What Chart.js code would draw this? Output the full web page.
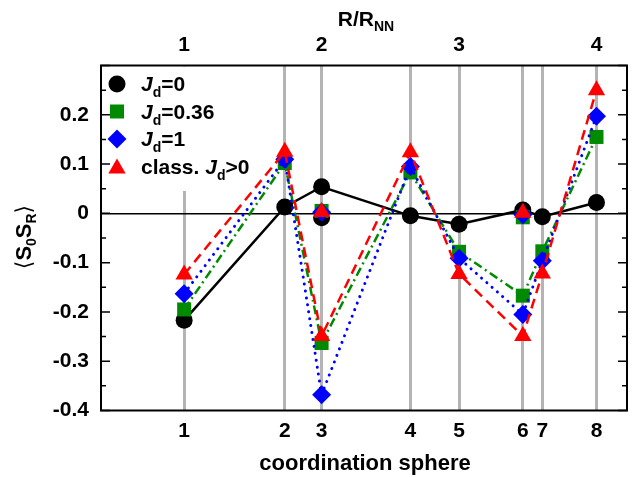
<!DOCTYPE html>
<html><head><meta charset="utf-8">
<script src="https://cdn.jsdelivr.net/npm/chart.js@4.4.0/dist/chart.umd.min.js"></script>
<style>html,body{margin:0;padding:0;background:#fff;}#wrap{width:637px;height:477px;}</style>
</head><body><div id="wrap"><canvas id="c" width="637" height="477"></canvas></div>
<script>
// positions of coordination spheres in units of R/R_NN
const spherePos = [1, 1.732, 2, 2.646, 3, 3.464, 3.606, 4];
const sphereLabels = ['1', '2', '3', '4', '5', '6', '7', '8'];
const topTicks = [1, 2, 3, 4];
const yTickVals = [-0.4, -0.3, -0.2, -0.1, 0, 0.1, 0.2];

// connected values per sphere
const jd0     = [-0.217, 0.013, 0.054, -0.005, -0.022, 0.007, -0.007, 0.022];
const jd036   = [-0.195, 0.102, -0.263, 0.083, -0.078, -0.167, -0.077, 0.155];
const jd1     = [-0.163, 0.110, -0.368, 0.095, -0.091, -0.205, -0.096, 0.197];
const jdClass = [-0.124, 0.125, -0.249, 0.124, -0.123, -0.249, -0.122, 0.250];
// second (unconnected) values at spheres 3 and 6
const jd0Extra     = [null, null, -0.009, null, null, null, null, null];
const jd036Extra   = [null, null, 0.005, null, null, -0.008, null, null];
const jd1Extra     = [null, null, 0.002, null, null, -0.003, null, null];
const jdClassExtra = [null, null, 0.003, null, null, 0.001, null, null];

const FONT = "'Liberation Sans', Arial, Helvetica, sans-serif";
const X_MIN = 0.395, X_MAX = 4.222;

function pts(vals) {
  const out = [];
  vals.forEach((v, i) => { if (v !== null) out.push({x: spherePos[i], y: v}); });
  return out;
}
function lineDs(vals, color, dash, cap, width, style, rad) {
  return {
    data: pts(vals), showLine: true, borderColor: color, backgroundColor: color,
    borderWidth: width, borderDash: dash, borderCapStyle: cap, tension: 0,
    pointStyle: style, pointRadius: rad, pointHoverRadius: rad, pointBorderWidth: 0,
    pointBackgroundColor: color, clip: false
  };
}
function ptDs(vals, color, style, rad) {
  return {
    data: pts(vals), showLine: false, borderColor: color, backgroundColor: color,
    pointStyle: style, pointRadius: rad, pointHoverRadius: rad, pointBorderWidth: 0,
    pointBackgroundColor: color, clip: false
  };
}

const RED = '#ff0000', BLUE = '#0000ff', GREEN = '#008a00', BLACK = '#000000';
const datasets = [
  lineDs(jdClass, RED, [10, 6], 'butt', 2.5, 'triangle', 10),
  ptDs(jdClassExtra, RED, 'triangle', 10),
  lineDs(jd1, BLUE, [0.01, 7], 'round', 3, 'rectRot', 9.5),
  ptDs(jd1Extra, BLUE, 'rectRot', 9.5),
  lineDs(jd036, GREEN, [9, 4, 2, 4], 'butt', 2.5, 'rect', 9.9),
  ptDs(jd036Extra, GREEN, 'rect', 9.9),
  lineDs(jd0, BLACK, [], 'butt', 2.5, 'circle', 8.5),
  ptDs(jd0Extra, BLACK, 'circle', 8.5)
];

function drawRich(ctx, parts, x, y, align) {
  let w = 0;
  parts.forEach(p => { ctx.font = p.font; p.w = ctx.measureText(p.t).width; w += p.w; });
  let cx = align === 'center' ? x - w / 2 : x;
  parts.forEach(p => { ctx.font = p.font; ctx.fillText(p.t, cx, y + (p.dy || 0)); cx += p.w; });
}

function marker(ctx, style, x, y, color) {
  ctx.fillStyle = color; ctx.beginPath();
  if (style === 'circle') { ctx.arc(x, y, 8.5, 0, Math.PI * 2); }
  else if (style === 'rect') { ctx.rect(x - 7, y - 7, 14, 14); }
  else if (style === 'rectRot') { ctx.moveTo(x, y - 9.5); ctx.lineTo(x + 9.5, y); ctx.lineTo(x, y + 9.5); ctx.lineTo(x - 9.5, y); ctx.closePath(); }
  else { const r = 10; ctx.moveTo(x, y - r); ctx.lineTo(x + r * 0.866, y + r / 2); ctx.lineTo(x - r * 0.866, y + r / 2); ctx.closePath(); }
  ctx.fill();
}

const B21 = 'bold 21px ' + FONT, BI21 = 'italic bold 21px ' + FONT, B14 = 'bold 14px ' + FONT;

const deco = {
  id: 'deco',
  beforeDatasetsDraw(chart) {
    const {ctx, chartArea: a} = chart;
    ctx.save(); ctx.fillStyle = '#fff';
    ctx.fillRect(a.left + 1, a.top + 1, 178, 190 - a.top);
    ctx.restore();
  },
  afterDraw(chart) {
    const {ctx, chartArea: a} = chart;
    const ys = chart.scales.y;
    ctx.save();
    // frame
    ctx.strokeStyle = '#000'; ctx.lineWidth = 2;
    ctx.strokeRect(a.left, a.top, a.right - a.left, a.bottom - a.top);
    // y ticks (inward, both sides)
    ctx.lineWidth = 1.5;
    for (let k = -8; k <= 6; k++) {
      const v = k * 0.05;
      const py = ys.getPixelForValue(v);
      const len = (k % 2 === 0) ? 9 : 5;
      ctx.beginPath();
      ctx.moveTo(a.left, py); ctx.lineTo(a.left + len, py);
      ctx.moveTo(a.right, py); ctx.lineTo(a.right - len, py);
      ctx.stroke();
    }
    ctx.fillStyle = '#000'; ctx.textBaseline = 'alphabetic'; ctx.textAlign = 'left';
    // bottom title
    drawRich(ctx, [{t: 'coordination sphere', font: 'bold 22px ' + FONT}], (a.left + a.right) / 2 + 1, 470, 'center');
    // top title
    drawRich(ctx, [{t: 'R/R', font: 'bold 21px ' + FONT}, {t: 'NN', font: 'bold 14px ' + FONT, dy: 5}], (a.left + a.right) / 2 + 2, 26, 'center');
    // y title
    ctx.save(); ctx.translate(31, 237); ctx.rotate(-Math.PI / 2);
    drawRich(ctx, [
      {t: '\u27E8', font: '22px DejaVu Sans'},
      {t: 'S', font: 'bold 22px ' + FONT}, {t: '0', font: 'bold 14px ' + FONT, dy: 5},
      {t: 'S', font: 'bold 22px ' + FONT}, {t: 'R', font: 'bold 14px ' + FONT, dy: 5},
      {t: '\u27E9', font: '22px DejaVu Sans'}
    ], 0, 0, 'center');
    ctx.restore();
    // legend
    const rows = [
      {s: 'circle', c: BLACK, parts: [{t: 'J', font: BI21}, {t: 'd', font: B14, dy: 6}, {t: '=0', font: B21}]},
      {s: 'rect', c: GREEN, parts: [{t: 'J', font: BI21}, {t: 'd', font: B14, dy: 6}, {t: '=0.36', font: B21}]},
      {s: 'rectRot', c: BLUE, parts: [{t: 'J', font: BI21}, {t: 'd', font: B14, dy: 6}, {t: '=1', font: B21}]},
      {s: 'tri', c: RED, parts: [{t: 'class. ', font: B21}, {t: 'J', font: BI21}, {t: 'd', font: B14, dy: 6}, {t: '>0', font: B21}]}
    ];
    rows.forEach((r, i) => {
      const cy = 84 + i * 27.5;
      marker(ctx, r.s, 117, cy + (r.s === 'tri' ? 2 : 0), r.c);
      ctx.fillStyle = '#000';
      drawRich(ctx, r.parts, 141, cy + 7, 'left');
    });
    ctx.restore();
  }
};

new Chart(document.getElementById('c'), {
  type: 'scatter',
  data: {datasets},
  options: {
    responsive: false, animation: false, devicePixelRatio: 1,
    layout: {padding: {left: 0, right: 1, top: 0, bottom: 0}},
    plugins: {legend: {display: false}, tooltip: {enabled: false}, title: {display: false}},
    scales: {
      x: {
        type: 'linear', position: 'bottom', min: X_MIN, max: X_MAX,
        afterBuildTicks: s => { s.ticks = spherePos.map(v => ({value: v})); },
        ticks: {callback: (v, i) => sphereLabels[i], font: {family: FONT, size: 21, weight: 'bold'}, color: '#000', padding: 8, maxRotation: 0, autoSkip: false},
        grid: {color: '#b4b4b4', lineWidth: 3, drawTicks: false},
        border: {display: false},
        afterFit: s => { s.height = 66.5; }
      },
      x2: {
        type: 'linear', position: 'top', min: X_MIN, max: X_MAX,
        afterBuildTicks: s => { s.ticks = topTicks.map(v => ({value: v})); },
        ticks: {callback: v => String(v), font: {family: FONT, size: 21, weight: 'bold'}, color: '#000', padding: 8, maxRotation: 0, autoSkip: false},
        grid: {display: false, drawTicks: false},
        border: {display: false},
        afterFit: s => { s.height = 65.5; }
      },
      y: {
        min: -0.4, max: 0.3,
        afterBuildTicks: s => { s.ticks = yTickVals.map(v => ({value: v})); },
        ticks: {callback: v => (Math.abs(v) < 1e-9 ? '0' : v.toFixed(1)), font: {family: FONT, size: 21, weight: 'bold'}, color: '#000', padding: 12},
        grid: {color: c => (c.tick && Math.abs(c.tick.value) < 1e-9 ? '#000' : 'rgba(0,0,0,0)'), lineWidth: 1.5, drawTicks: false},
        border: {display: false},
        afterFit: s => { s.width = 101; }
      }
    }
  },
  plugins: [deco]
});
</script></body></html>
